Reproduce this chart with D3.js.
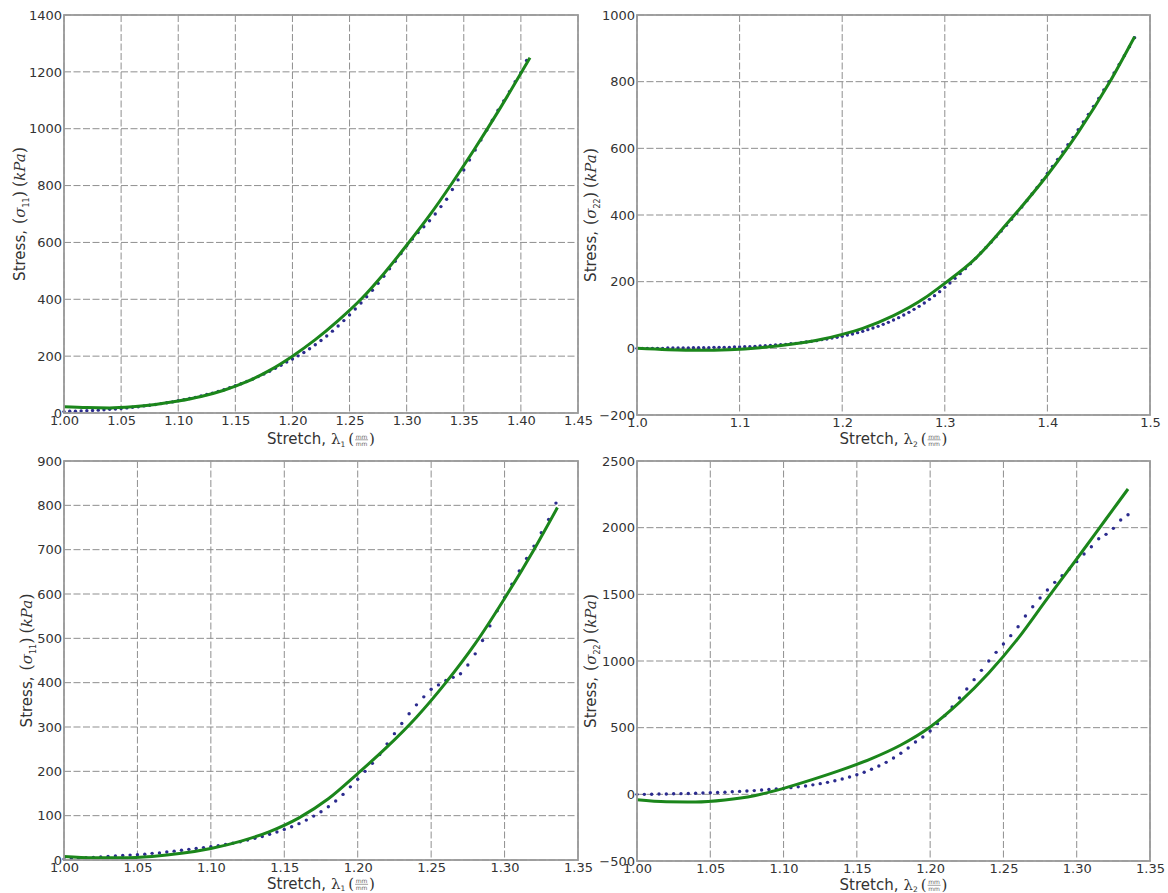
<!DOCTYPE html>
<html>
<head>
<meta charset="utf-8">
<title>Stress vs stretch</title>
<script src="https://d3js.org/d3.v7.min.js"></script>
<style>
  body { margin: 0; background: #fff; }
  text { white-space: pre; }
</style>
</head>
<body>
<script>
// ---- data ----
// panel 1: sigma11 vs lambda1 (top left)
var p1Stretch = [1.000,1.005,1.010,1.015,1.020,1.025,1.030,1.035,1.040,1.045,1.050,1.055,1.060,1.065,1.070,1.075,1.080,1.085,1.090,1.095,
  1.100,1.105,1.110,1.115,1.120,1.125,1.130,1.135,1.140,1.145,1.150,1.155,1.160,1.165,1.170,1.175,1.180,1.185,1.190,1.195,
  1.200,1.205,1.210,1.215,1.220,1.225,1.230,1.235,1.240,1.245,1.250,1.255,1.260,1.265,1.270,1.275,1.280,1.285,1.290,1.295,
  1.300,1.305,1.310,1.315,1.320,1.325,1.330,1.335,1.340,1.345,1.350,1.355,1.360,1.365,1.370,1.375,1.380,1.385,1.390,1.395,
  1.400,1.405];
var p1Stress = [5,6,6,7,8,9,10,11,13,14,16,18,20,22,25,27,30,33,36,39,
  43,47,51,55,60,65,70,76,82,89,96,103,111,119,128,137,147,157,168,179,
  190,201,213,226,240,255,271,288,306,325,345,366,387,409,432,456,481,507,534,561,
  588,612,635,655,676,700,726,752,786,820,855,890,925,960,995,1030,1065,1098,1130,1165,
  1198,1240];
var p1FitStretch = [1.00,1.02,1.04,1.06,1.08,1.10,1.12,1.14,1.16,1.18,1.20,1.22,1.24,1.26,1.28,1.30,1.32,1.34,1.36,1.38,1.40,1.408];
var p1FitStress = [22,19,18,22,30,42,58,80,110,150,200,258,325,400,490,590,695,810,932,1060,1195,1250];

// panel 2: sigma22 vs lambda2 (top right)
var p2Stretch = [1.000,1.005,1.010,1.015,1.020,1.025,1.030,1.035,1.040,1.045,1.050,1.055,1.060,1.065,1.070,1.075,1.080,1.085,1.090,1.095,
  1.100,1.105,1.110,1.115,1.120,1.125,1.130,1.135,1.140,1.145,1.150,1.155,1.160,1.165,1.170,1.175,1.180,1.185,1.190,1.195,
  1.200,1.205,1.210,1.215,1.220,1.225,1.230,1.235,1.240,1.245,1.250,1.255,1.260,1.265,1.270,1.275,1.280,1.285,1.290,1.295,
  1.300,1.305,1.310,1.315,1.320,1.325,1.330,1.335,1.340,1.345,1.350,1.355,1.360,1.365,1.370,1.375,1.380,1.385,1.390,1.395,
  1.400,1.405,1.410,1.415,1.420,1.425,1.430,1.435,1.440,1.445,1.450,1.455,1.460,1.465,1.470,1.475,1.480,1.485];
var p2Stress = [0,0,0,0,0,0,1,1,1,1,1,2,2,2,2,3,3,3,3,4,
  4,5,5,6,7,8,9,10,11,12,14,15,17,19,21,23,26,28,31,33,
  36,40,43,47,51,56,61,66,72,78,85,92,100,108,117,126,136,147,158,170,
  183,196,210,224,239,254,270,286,302,318,335,352,369,387,405,424,443,463,483,504,
  525,546,567,589,611,633,656,679,702,726,750,775,800,826,852,878,905,932];
var p2FitStretch = [1.00,1.03,1.06,1.09,1.12,1.15,1.18,1.20,1.22,1.25,1.28,1.30,1.33,1.36,1.40,1.43,1.46,1.485];
var p2FitStress = [0,-4,-6,-4,2,12,27,42,60,98,150,195,270,372,520,648,795,935];

// panels 3 and 4 share the stretch samples (bottom row)
var bottomStretch = [1.000,1.005,1.010,1.015,1.020,1.025,1.030,1.035,1.040,1.045,1.050,1.055,1.060,1.065,1.070,1.075,1.080,1.085,1.090,1.095,
  1.100,1.105,1.110,1.115,1.120,1.125,1.130,1.135,1.140,1.145,1.150,1.155,1.160,1.165,1.170,1.175,1.180,1.185,1.190,1.195,
  1.200,1.205,1.210,1.215,1.220,1.225,1.230,1.235,1.240,1.245,1.250,1.255,1.260,1.265,1.270,1.275,1.280,1.285,1.290,1.295,
  1.300,1.305,1.310,1.315,1.320,1.325,1.330,1.335];
var p3Stress = [2,3,4,5,6,7,8,9,10,11,12,13,15,16,18,20,22,24,26,28,
  30,32,35,38,41,45,49,53,58,63,69,75,82,90,99,109,120,133,148,165,
  182,200,218,238,262,285,308,330,350,368,385,395,405,412,420,440,465,495,528,562,
  592,622,652,680,708,738,768,805];
var p3FitStretch = [1.00,1.02,1.04,1.06,1.08,1.10,1.12,1.14,1.16,1.18,1.20,1.22,1.24,1.26,1.28,1.30,1.32,1.336];
var p3FitStress = [8,5,5,8,15,26,42,64,95,138,195,255,322,400,488,590,700,795];

var p4Stress = [0,0,1,2,3,4,5,6,8,10,12,14,16,19,22,25,28,32,36,40,
  45,50,56,63,71,80,90,102,115,130,147,166,188,212,240,272,308,348,392,430,
  475,530,590,655,722,790,860,930,1000,1065,1128,1190,1257,1337,1407,1472,1532,1590,1640,1690,
  1745,1802,1857,1917,1950,1995,2057,2097];
var p4FitStretch = [1.00,1.02,1.04,1.06,1.08,1.10,1.12,1.14,1.16,1.18,1.20,1.22,1.24,1.26,1.28,1.30,1.32,1.335];
var p4FitStress = [-40,-55,-57,-42,-10,45,112,185,268,370,505,690,910,1170,1470,1765,2065,2290];

// tick values
var xTicks1 = [1.00,1.05,1.10,1.15,1.20,1.25,1.30,1.35,1.40,1.45];
var xTicks2 = [1.0,1.1,1.2,1.3,1.4,1.5];
var xTicks34 = [1.00,1.05,1.10,1.15,1.20,1.25,1.30,1.35];
var yTicks1 = [0,200,400,600,800,1000,1200,1400];
var yTicks2 = [-200,0,200,400,600,800,1000];
var yTicks3 = [0,100,200,300,400,500,600,700,800,900];
var yTicks4 = [-500,0,500,1000,1500,2000,2500];

var svg = d3.select('body').append('svg')
  .attr('width', 1168)
  .attr('height', 893);

var panels = [
  {x0:64, x1:578, y0:15, y1:413, xDom:[1.00,1.45], xTicks:xTicks1, xFmt:'.2f', yDom:[0,1400], yTicks:yTicks1,
   sx:p1Stretch, sy:p1Stress, fx:p1FitStretch, fy:p1FitStress, lam:'1', sig:'11', labX:20, labY:31},
  {x0:637, x1:1150, y0:15, y1:415, xDom:[1.0,1.5], xTicks:xTicks2, xFmt:'.1f', yDom:[-200,1000], yTicks:yTicks2,
   sx:p2Stretch, sy:p2Stress, fx:p2FitStretch, fy:p2FitStress, lam:'2', sig:'22', labX:591, labY:29},
  {x0:64, x1:578, y0:461, y1:860, xDom:[1.00,1.35], xTicks:xTicks34, xFmt:'.2f', yDom:[0,900], yTicks:yTicks3,
   sx:bottomStretch, sy:p3Stress, fx:p3FitStretch, fy:p3FitStress, lam:'1', sig:'11', labX:27, labY:28.5},
  {x0:637, x1:1150, y0:461, y1:861, xDom:[1.00,1.35], xTicks:xTicks34, xFmt:'.2f', yDom:[-500,2500], yTicks:yTicks4,
   sx:bottomStretch, sy:p4Stress, fx:p4FitStretch, fy:p4FitStress, lam:'2', sig:'22', labX:591, labY:28.5}
];

var SANS = 'DejaVu Sans, sans-serif';
var SERIF = 'DejaVu Serif, serif';

// place a row of text pieces one after another, return the group and its width
function textRow(parent, pieces) {
  var g = parent.append('g');
  var cx = 0;
  pieces.forEach(function(pc) {
    if (pc.frac) {
      var w = pc.w;
      g.append('text').attr('x', cx + w / 2).attr('y', -5.5).attr('text-anchor', 'middle')
        .attr('font-family', SANS).attr('font-size', 6).attr('fill', '#666').text('mm');
      g.append('line').attr('x1', cx + 1).attr('x2', cx + w - 1).attr('y1', -4.2).attr('y2', -4.2)
        .attr('stroke', '#777').attr('stroke-width', 0.7);
      g.append('text').attr('x', cx + w / 2).attr('y', 1.8).attr('text-anchor', 'middle')
        .attr('font-family', SANS).attr('font-size', 6).attr('fill', '#666').text('mm');
      cx += w;
      return;
    }
    var t = g.append('text').attr('x', cx).attr('y', pc.dy || 0)
      .attr('font-family', pc.font || SANS)
      .attr('font-size', pc.size || 15)
      .attr('font-style', pc.italic ? 'italic' : 'normal')
      .attr('fill', '#333')
      .text(pc.t);
    cx += t.node().getComputedTextLength() + (pc.pad || 0);
  });
  return {g: g, w: cx};
}

panels.forEach(function(p) {
  var x = d3.scaleLinear().domain(p.xDom).range([p.x0, p.x1]);
  var y = d3.scaleLinear().domain(p.yDom).range([p.y1, p.y0]);
  var g = svg.append('g');

  // dashed grid
  g.append('g').selectAll('line').data(p.xTicks).enter().append('line')
    .attr('x1', function(d) { return x(d); }).attr('x2', function(d) { return x(d); })
    .attr('y1', p.y0).attr('y2', p.y1)
    .attr('stroke', '#8f8f8f').attr('stroke-width', 1).attr('stroke-dasharray', '7,2.5');
  g.append('g').selectAll('line').data(p.yTicks).enter().append('line')
    .attr('x1', p.x0).attr('x2', p.x1)
    .attr('y1', function(d) { return y(d); }).attr('y2', function(d) { return y(d); })
    .attr('stroke', '#8f8f8f').attr('stroke-width', 1).attr('stroke-dasharray', '7,2.5');

  // measured points
  g.append('g').selectAll('circle').data(p.sx).enter().append('circle')
    .attr('cx', function(d) { return x(d); })
    .attr('cy', function(d, i) { return y(p.sy[i]); })
    .attr('r', 1.7)
    .attr('fill', '#2b2b8e');

  // model fit
  var line = d3.line()
    .x(function(d) { return x(d); })
    .y(function(d, i) { return y(p.fy[i]); })
    .curve(d3.curveMonotoneX);
  g.append('path').datum(p.fx)
    .attr('d', line)
    .attr('fill', 'none')
    .attr('stroke', '#1b861b')
    .attr('stroke-width', 3);

  // frame
  g.append('rect')
    .attr('x', p.x0).attr('y', p.y0)
    .attr('width', p.x1 - p.x0).attr('height', p.y1 - p.y0)
    .attr('fill', 'none').attr('stroke', '#9a9a9a').attr('stroke-width', 1.8);

  // axes tick labels
  var ax = g.append('g').attr('transform', 'translate(0,' + p.y1 + ')')
    .call(d3.axisBottom(x).tickValues(p.xTicks).tickFormat(d3.format(p.xFmt)).tickSize(0).tickPadding(3));
  ax.select('.domain').remove();
  ax.selectAll('text').attr('font-size', 13).attr('font-family', SANS).attr('fill', '#333');

  var ay = g.append('g').attr('transform', 'translate(' + p.x0 + ',0)')
    .call(d3.axisLeft(y).tickValues(p.yTicks).tickFormat(d3.format('d')).tickSize(0).tickPadding(2));
  ay.select('.domain').remove();
  ay.selectAll('text').attr('font-size', 13).attr('font-family', SANS).attr('fill', '#333');

  // x label: Stretch, lambda_i (mm/mm)
  var xl = textRow(svg, [
    {t: 'Stretch,', size: 15, pad: 5},
    {t: 'λ', size: 15, font: SERIF},
    {t: p.lam, size: 7.5, dy: 2.5, pad: 3},
    {t: '(', size: 15, font: SERIF},
    {frac: true, w: 15},
    {t: ')', size: 15, font: SERIF}
  ]);
  xl.g.attr('transform', 'translate(' + ((p.x0 + p.x1) / 2 - xl.w / 2) + ',' + (p.y1 + p.labY) + ')');

  // y label: Stress, (sigma_ii) (kPa)
  var yl = textRow(svg, [
    {t: 'Stress,', size: 15, pad: 6},
    {t: '(', size: 16, font: SERIF},
    {t: 'σ', size: 15, font: SERIF, italic: true},
    {t: p.sig, size: 8, dy: 4},
    {t: ')', size: 16, font: SERIF, pad: 4},
    {t: '(', size: 16, font: SERIF},
    {t: 'kPa', size: 15, font: SERIF, italic: true},
    {t: ')', size: 16, font: SERIF}
  ]);
  var cy = (p.y0 + p.y1) / 2;
  yl.g.attr('transform', 'translate(' + (p.labX + 5) + ',' + cy + ') rotate(-90) translate(' + (-yl.w / 2) + ',0)');
});
</script>
</body>
</html>
